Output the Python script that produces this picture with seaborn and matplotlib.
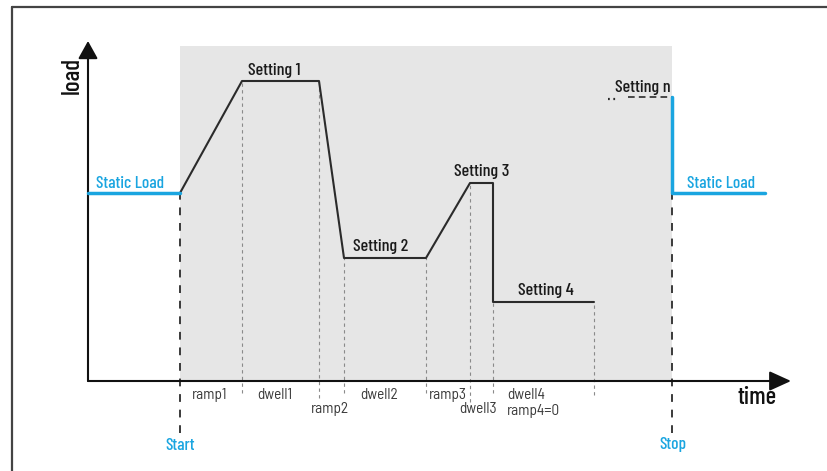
import matplotlib
matplotlib.use("Agg")
import matplotlib.pyplot as plt
import seaborn as sns
import pandas as pd

sns.set_theme(style="white")
plt.rcParams['font.family'] = ['Barlow Condensed', 'DejaVu Sans']

# load profile (time, load) in arbitrary units
profile_time = [9.2, 15.4, 23.1, 25.6, 33.8, 38.2, 40.5, 40.5, 50.6]
profile_load = [18.8, 30.0, 30.0, 12.3, 12.3, 19.8, 19.8, 7.9, 7.9]

static_load = 18.8
t_start, t_stop, t_end = 9.2, 58.4, 67.7
setting_n_load = 28.4
setting_n_from = 54.0
shade_top = 33.5

# guide lines: time, top load, bottom load
guide_time = [15.4, 23.1, 25.6, 33.8, 38.2, 40.5, 50.6]
guide_top = [30.0, 30.0, 12.3, 12.3, 19.8, 7.9, 7.9]
guide_bottom = [-1.2, -1.7, -1.2, -1.2, -2.1, -1.2, -1.4]

# phase labels
phase_labels = ["ramp1", "dwell1", "ramp2", "dwell2", "ramp3", "dwell3"]
phase_x = [12.2, 18.7, 24.2, 29.1, 36.0, 39.0]
phase_y = [-1.4, -1.4, -2.8, -1.4, -1.4, -2.8]

setting_labels = ["Setting 1", "Setting 2", "Setting 3", "Setting 4", "Setting n"]
setting_x = [18.6, 29.3, 39.4, 45.8, 55.5]
setting_y = [30.3, 12.7, 20.2, 8.3, 28.6]

blue = "#1aa5e0"
dark = "#2b2b2b"
phase_font = ['Barlow Semi Condensed', 'DejaVu Sans']

fig = plt.figure(figsize=(8.28, 4.71), dpi=100)
ax = fig.add_axes([0, 0, 1, 1])
ax.set_xlim(-8.8, 74.0)
ax.set_ylim(-9.0, 38.1)
ax.axis("off")

# frame lines
ax.plot([-7.6, 74.0], [37.4, 37.4], color="#444444", lw=1.6)
ax.plot([-7.6, -7.6], [-9.0, 37.4], color="#444444", lw=1.6)

# shaded test window
ax.fill_between([t_start, t_stop], 0, shade_top, color="#e6e6e6", lw=0, zorder=0)

# axes with arrows
ax.annotate("", xy=(70.3, 0), xytext=(0, 0),
            arrowprops=dict(arrowstyle="-|>,head_length=1.1,head_width=0.5",
                            color="#111111", lw=1.5, shrinkA=0, shrinkB=0))
ax.annotate("", xy=(0, 34.0), xytext=(0, 0),
            arrowprops=dict(arrowstyle="-|>,head_length=0.9,head_width=0.5",
                            color="#111111", lw=1.5, shrinkA=0, shrinkB=0))

# guide lines
for t, top, bot in zip(guide_time, guide_top, guide_bottom):
    ax.plot([t, t], [bot, top], color="#8a8a8a", lw=0.8, ls=(0, (3, 3)), zorder=1)

# start / stop lines
for t in [t_start, t_stop]:
    ax.plot([t, t], [-5.2, static_load], color="#3a3a3a", lw=1.4, ls=(0, (4, 4)), zorder=1)

# profile
df = pd.DataFrame({"time": profile_time, "load": profile_load})
sns.lineplot(data=df, x="time", y="load", sort=False, estimator=None,
             color=dark, lw=1.5, ax=ax, zorder=3)

# setting n
ax.plot([setting_n_from, t_stop], [setting_n_load] * 2, color=dark, lw=1.2, ls=(0, (4, 2.5)))
ax.plot([52.0, 53.0], [setting_n_load - 0.15] * 2, color=dark, lw=1.6,
        ls=(0, (0.8, 1.6)), solid_capstyle="butt", dash_capstyle="butt")

# static load (blue)
ax.plot([0, t_start], [static_load] * 2, color=blue, lw=2.5, zorder=4)
ax.plot([t_stop, t_stop, t_end], [setting_n_load, static_load, static_load],
        color=blue, lw=2.5, zorder=4)

# texts
for lbl, x, y in zip(setting_labels, setting_x, setting_y):
    ax.text(x, y, lbl, ha="center", va="bottom", fontsize=13, weight=500, color="#1a1a1a")

for lbl, x, y in zip(phase_labels, phase_x, phase_y):
    ax.text(x, y, lbl, ha="center", va="center", fontsize=11, color="#3a3a3a",
            family=phase_font)
ax.text(41.9, -1.4, "dwell4", ha="left", va="center", fontsize=11, color="#3a3a3a",
        family=phase_font)
ax.text(41.9, -3.0, "ramp4=0", ha="left", va="center", fontsize=11, color="#3a3a3a",
        family=phase_font)

ax.text(4.2, 19.0, "Static Load", ha="center", va="bottom", fontsize=12.5, weight=500, color=blue)
ax.text(63.3, 19.0, "Static Load", ha="center", va="bottom", fontsize=12.5, weight=500, color=blue)
ax.text(t_start, -6.4, "Start", ha="center", va="center", fontsize=12.5, weight=500, color=blue)
ax.text(t_stop + 0.1, -6.3, "Stop", ha="center", va="center", fontsize=12.5, weight=500, color=blue)

ax.text(66.9, -1.6, "time", ha="center", va="center", fontsize=18, weight=500, color="#111111")
ax.text(-1.6, 30.6, "load", ha="center", va="center", fontsize=18, weight=500, rotation=90,
        color="#111111")

fig.savefig("out.png", dpi=100)
